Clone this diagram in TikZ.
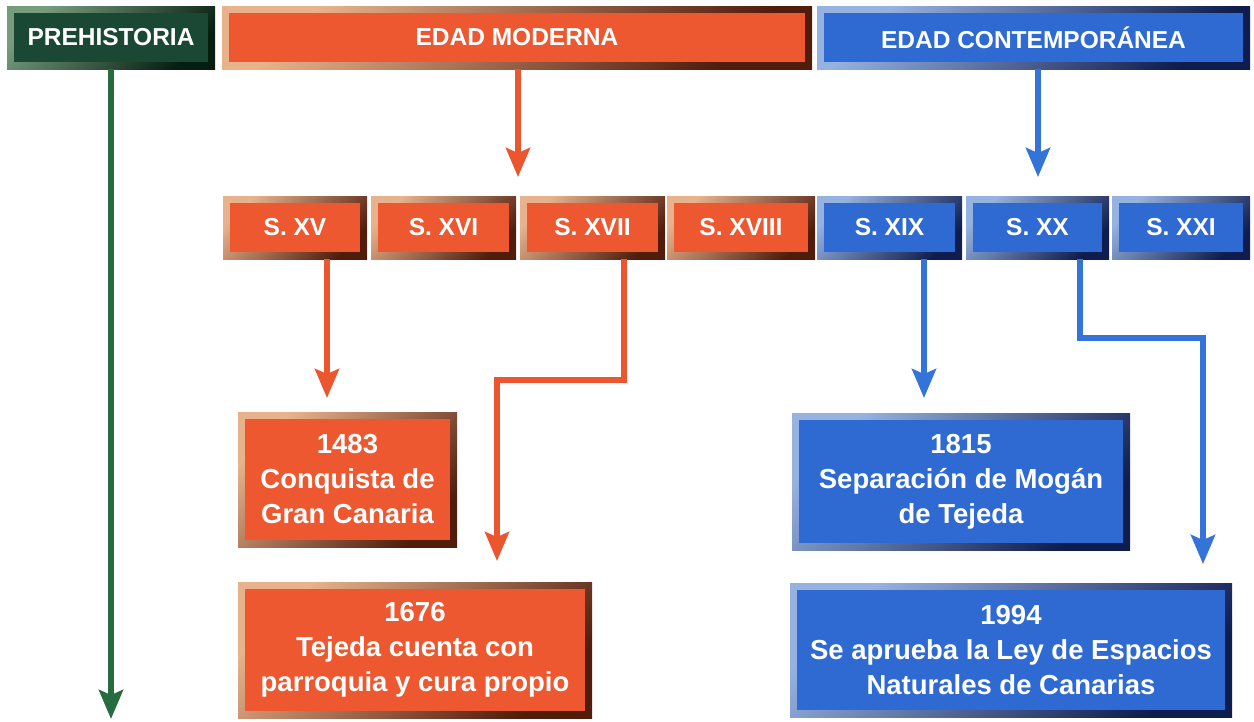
\documentclass[tikz,border=0pt]{standalone}
\usepackage{fontspec}
\setmainfont{Liberation Sans}
\usepackage{tikz}
\usetikzlibrary{arrows.meta}
\definecolor{redin}{RGB}{238,88,48}
\definecolor{redlight}{RGB}{232,178,140}
\definecolor{reddark}{RGB}{80,28,12}
\definecolor{redline}{RGB}{236,86,46}
\definecolor{bluein}{RGB}{46,106,210}
\definecolor{bluelight}{RGB}{150,178,225}
\definecolor{bluedark}{RGB}{14,28,78}
\definecolor{blueline}{RGB}{52,116,216}
\definecolor{greenin}{RGB}{26,72,52}
\definecolor{greenlight}{RGB}{118,156,126}
\definecolor{greendark}{RGB}{6,30,16}
\definecolor{greenline}{RGB}{38,108,64}
\tikzset{
  inner/.style={path picture={\fill[#1] ([shift={(7pt,-7pt)}]path picture bounding box.north west) rectangle ([shift={(-7pt,7pt)}]path picture bounding box.south east);}},
  era/.style={rectangle, inner sep=0pt, text=white, align=center, font=\bfseries\fontsize{24.5}{29}\selectfont},
  event/.style={rectangle, inner sep=0pt, text=white, align=center, font=\bfseries\fontsize{27.5}{35}\selectfont},
  redbox/.style={top color=redlight, bottom color=reddark, shading angle=45, inner=redin},
  bluebox/.style={top color=bluelight, bottom color=bluedark, shading angle=45, inner=bluein},
  greenbox/.style={top color=greenlight, bottom color=greendark, shading angle=45, inner=greenin},
  link/.style={line width=5.5pt, -{Stealth[length=29pt, width=24pt, inset=5pt]}}
}
\begin{document}
\begin{tikzpicture}[x=1pt, y=-1pt]
\useasboundingbox (0,0) rectangle (1254,721);
%top row
\node[era, greenbox, minimum width=208pt, minimum height=63pt] (prehist) at (111,37.5) {PREHISTORIA};
\node[era, redbox, minimum width=590pt, minimum height=63pt] (moderna) at (517,37.5) {EDAD MODERNA};
\node[era, bluebox, minimum width=433pt, minimum height=63pt] (contemp) at (1033.5,37.5) {EDAD CONTEMPOR\'ANEA};
%centuries
\node[era, redbox, minimum width=144pt, minimum height=63pt] (s15) at (295,227.5) {S. XV};
\node[era, redbox, minimum width=145pt, minimum height=63pt] (s16) at (443.5,227.5) {S. XVI};
\node[era, redbox, minimum width=145pt, minimum height=63pt] (s17) at (592.5,227.5) {S. XVII};
\node[era, redbox, minimum width=148pt, minimum height=63pt] (s18) at (741,227.5) {S. XVIII};
\node[era, bluebox, minimum width=145pt, minimum height=63pt] (s19) at (889.5,227.5) {S. XIX};
\node[era, bluebox, minimum width=143pt, minimum height=63pt] (s20) at (1037.5,227.5) {S. XX};
\node[era, bluebox, minimum width=138pt, minimum height=63pt] (s21) at (1181,227.5) {S. XXI};
%events
\node[event, redbox, minimum width=219pt, minimum height=135pt] (e1483) at (347.5,479.5) {1483\\Conquista de\\Gran Canaria};
\node[event, redbox, minimum width=354pt, minimum height=136pt] (e1676) at (415,650) {1676\\Tejeda cuenta con\\parroquia y cura propio};
\node[event, bluebox, minimum width=338pt, minimum height=137pt] (e1815) at (961,481.5) {1815\\Separaci\'on de Mog\'an\\de Tejeda};
\node[event, bluebox, minimum width=442pt, minimum height=134pt] (e1994) at (1011,650) {1994\\Se aprueba la Ley de Espacios\\Naturales de Canarias};
%arrow ends
\coordinate (gtip) at (111,719);
\coordinate (mtip) at (518,177);
\coordinate (ctip) at (1038,177);
\coordinate (t15) at (327,398);
\coordinate (b17) at (624,380);
\coordinate (t17) at (497,561);
\coordinate (t19) at (924,398);
\coordinate (b20) at (1080,338);
\coordinate (t20) at (1203,564);
%arrows
\draw[link, greenline] (prehist.south) -- (gtip);
\draw[link, redline] (mtip |- moderna.south) -- (mtip);
\draw[link, blueline] (ctip |- contemp.south) -- (ctip);
\draw[link, redline] (t15 |- s15.south) -- (t15);
\draw[link, redline] (b17 |- s17.south) -- (b17) -| (t17);
\draw[link, blueline] (t19 |- s19.south) -- (t19);
\draw[link, blueline] (b20 |- s20.south) -- (b20) -| (t20);
\end{tikzpicture}
\end{document}
